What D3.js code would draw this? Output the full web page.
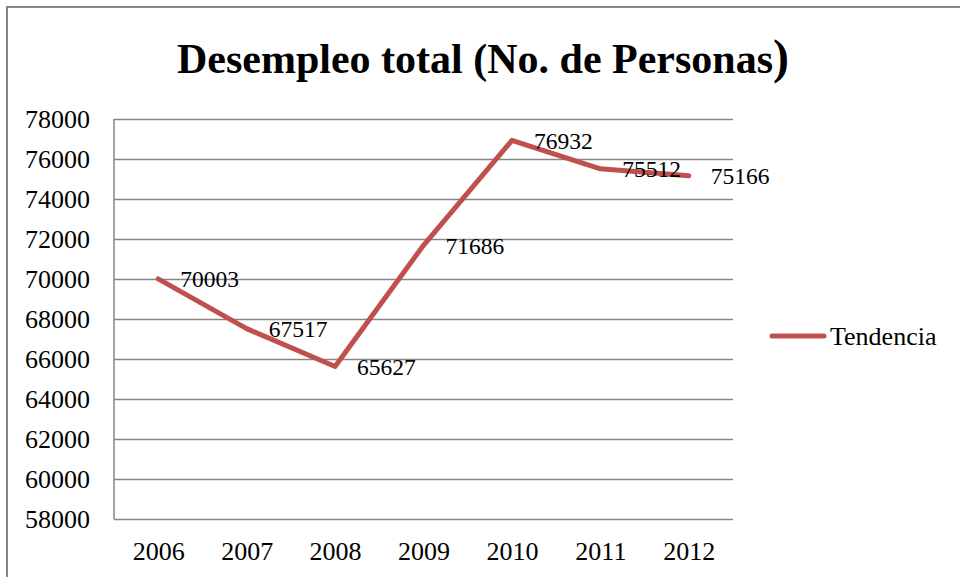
<!DOCTYPE html>
<html>
<head>
<meta charset="utf-8">
<script src="https://cdn.jsdelivr.net/npm/d3@7"></script>
<style>
  body { margin: 0; background: #fff; }
  svg { display: block; font-family: "Liberation Serif", "Times New Roman", serif; }
</style>
</head>
<body>
<div id="chart"></div>
<script>

var years = ["2006", "2007", "2008", "2009", "2010", "2011", "2012"];
var tendencia = [70003, 67517, 65627, 71686, 76932, 75512, 75166];
var yTicks = [58000, 60000, 62000, 64000, 66000, 68000, 70000, 72000, 74000, 76000, 78000];
var seriesName = "Tendencia";
var title = "Desempleo total (No. de Personas";

var width = 960, height = 577;
var grey = "#868686", red = "#C0504D";

var svg = d3.select("#chart").append("svg")
  .attr("width", width)
  .attr("height", height);

svg.append("rect").attr("width", width).attr("height", height).attr("fill", "#fff");

// outer chart border (right and bottom fall outside the picture)
svg.append("path")
  .attr("d", "M7,600V7H960")
  .attr("fill", "none")
  .attr("stroke", grey)
  .attr("stroke-width", 2);

// title, the closing bracket is drawn a bit larger like in the original
var t = svg.append("text")
  .attr("x", 177)
  .attr("y", 73)
  .attr("font-size", 42)
  .attr("font-weight", "bold")
  .attr("fill", "#000");
t.append("tspan").text(title);
t.append("tspan").attr("font-size", 48).text(")");

var x = d3.scalePoint()
  .domain(years)
  .range([114, 733])
  .padding(0.5);

var y = d3.scaleLinear()
  .domain([58000, 78000])
  .range([519, 119]);

// y axis with gridlines
var yAxis = svg.append("g")
  .attr("transform", "translate(114,0)")
  .call(d3.axisLeft(y).tickValues(yTicks).tickSize(-619).tickPadding(24).tickFormat(d3.format("d")));

yAxis.select(".domain").remove();
yAxis.selectAll("line").attr("stroke", grey).attr("stroke-width", 1.5);
yAxis.selectAll("text")
  .attr("font-size", 26)
  .attr("font-family", "Liberation Serif, Times New Roman, serif")
  .attr("fill", "#000");

svg.append("line")
  .attr("x1", 114).attr("x2", 114)
  .attr("y1", y(78000)).attr("y2", y(58000))
  .attr("stroke", grey).attr("stroke-width", 1.5);

// x axis labels
var xAxis = svg.append("g")
  .attr("transform", "translate(0,519)")
  .call(d3.axisBottom(x).tickSize(0).tickPadding(23));

xAxis.select(".domain").remove();
xAxis.selectAll("text")
  .attr("font-size", 26)
  .attr("font-family", "Liberation Serif, Times New Roman, serif")
  .attr("fill", "#000");

// line
var line = d3.line()
  .x(function(d, i){ return x(years[i]); })
  .y(function(d){ return y(d); });

svg.append("path")
  .datum(tendencia)
  .attr("d", line)
  .attr("fill", "none")
  .attr("stroke", red)
  .attr("stroke-width", 5)
  .attr("stroke-linejoin", "round")
  .attr("stroke-linecap", "round");

// data labels to the right of each point
svg.selectAll(".lbl")
  .data(tendencia)
  .enter()
  .append("text")
  .attr("class", "lbl")
  .attr("x", function(d, i){ return x(years[i]) + 22; })
  .attr("y", function(d){ return y(d); })
  .attr("dy", "0.35em")
  .attr("font-size", 23.5)
  .attr("fill", "#000")
  .text(function(d){ return d; });

// legend
svg.append("line")
  .attr("x1", 772).attr("x2", 824)
  .attr("y1", 336).attr("y2", 336)
  .attr("stroke", red)
  .attr("stroke-width", 5)
  .attr("stroke-linecap", "round");

svg.append("text")
  .attr("x", 830)
  .attr("y", 345)
  .attr("font-size", 26)
  .attr("fill", "#000")
  .text(seriesName);

</script>
</body>
</html>
